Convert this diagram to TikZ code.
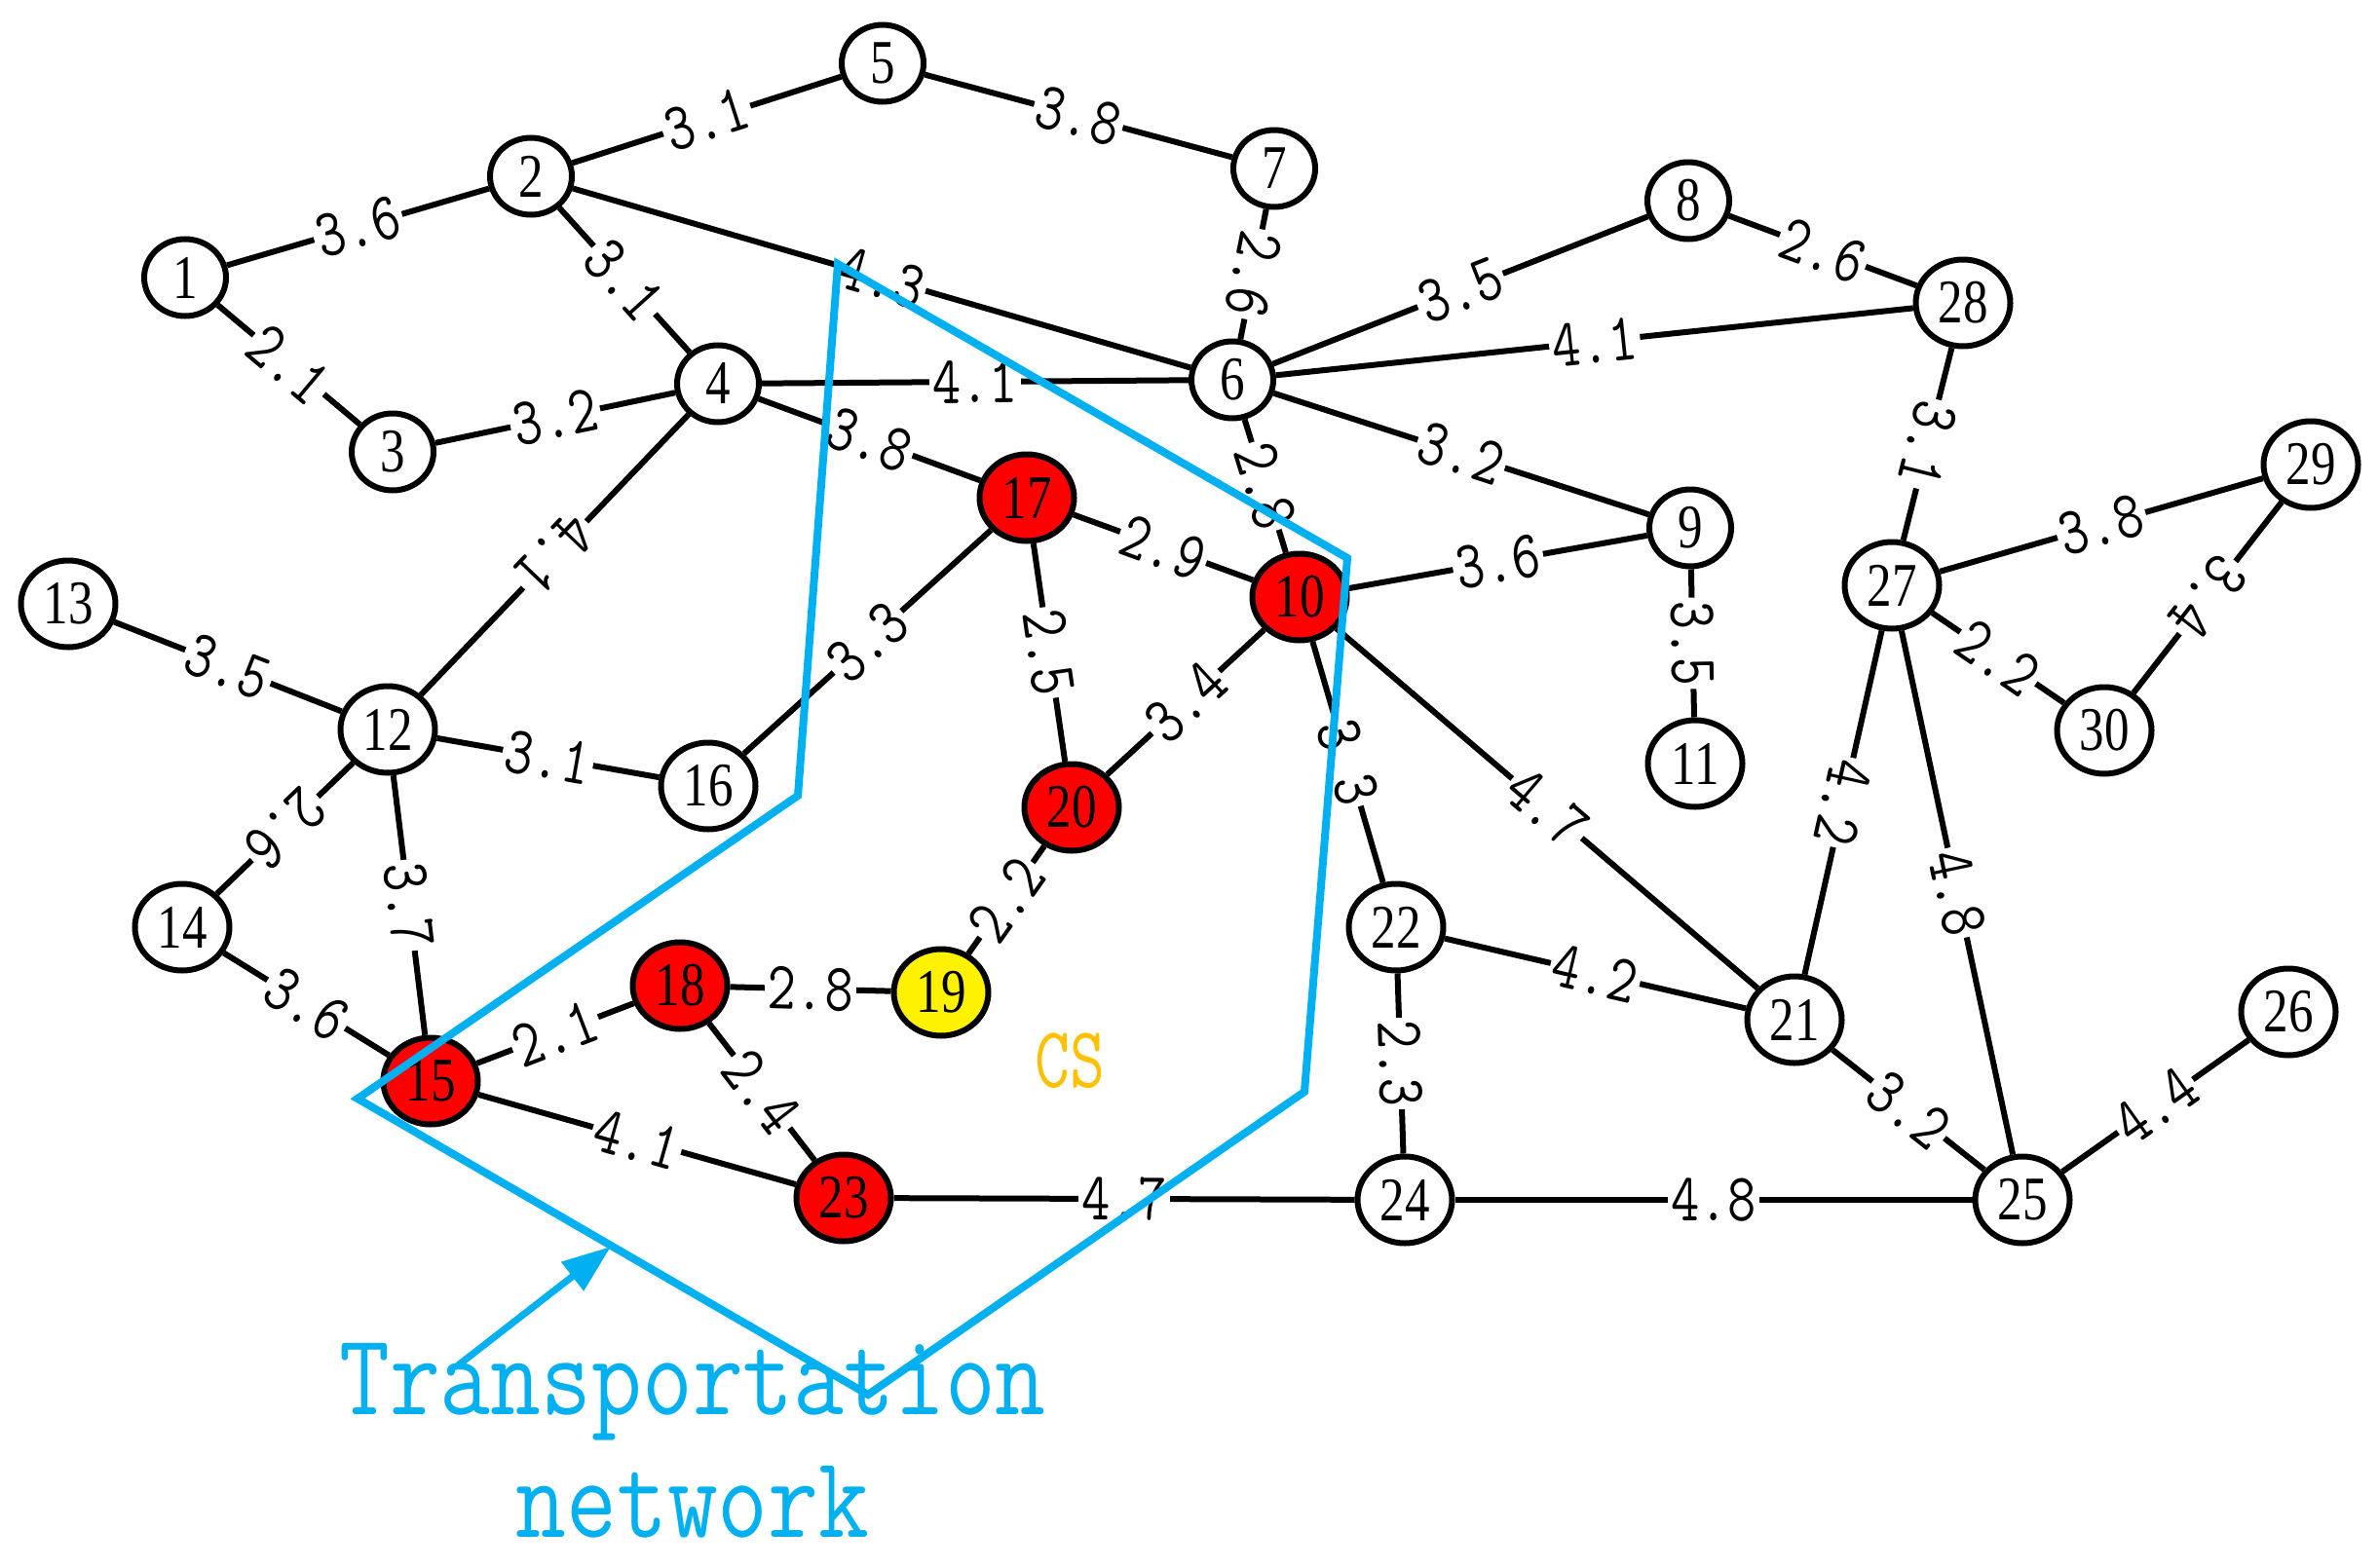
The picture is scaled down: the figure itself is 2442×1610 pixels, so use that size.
\documentclass[tikz,border=0pt]{standalone}
\usepackage{fontspec}
\usepackage{graphicx}
\usetikzlibrary{shapes.geometric,arrows.meta}
\newfontfamily\numfont{Liberation Serif}
\definecolor{tblue}{HTML}{00B0F0}
\definecolor{csorange}{HTML}{FFC000}
\newcommand\nnum[1]{\scalebox{0.8}[1]{#1}}
\newcommand\elab[1]{\scalebox{1}[1.23]{\addfontfeatures{FakeBold=3}#1}}
\begin{document}
\begin{tikzpicture}[x=1bp,y=-1bp,
  vtx/.style={ellipse, draw, line width=6bp, fill=white, inner sep=0pt,
    minimum width=84bp, minimum height=79bp, font=\numfont\fontsize{64}{64}\selectfont},
  vtxw/.style={vtx, minimum width=97bp, minimum height=89bp},
  hotnode/.style={fill=red},
  csnode/.style={fill=yellow},
  edge/.style={line width=6bp},
  lab/.style={fill=white, inner sep=3bp, sloped, allow upside down, midway,
    font=\ttfamily\fontsize{57}{57}\selectfont},
  poly/.style={draw=tblue, line width=8bp, line join=miter},
  bigtext/.style={anchor=base, text=tblue, font=\ttfamily\fontsize{101}{101}\selectfont\addfontfeatures{FakeBold=2.5}}
]
\fill[white] (0,0) rectangle (2442,1610);
\useasboundingbox (0,0) rectangle (2442,1610);

% vertices
\node[vtx]  (n1)  at (190,285)  {\nnum{1}};
\node[vtx]  (n2)  at (545,181)  {\nnum{2}};
\node[vtx]  (n3)  at (403,464)  {\nnum{3}};
\node[vtx]  (n4)  at (737,394)  {\nnum{4}};
\node[vtx]  (n5)  at (906,65)   {\nnum{5}};
\node[vtx]  (n6)  at (1265,390) {\nnum{6}};
\node[vtx]  (n7)  at (1308,173) {\nnum{7}};
\node[vtx]  (n8)  at (1733,206) {\nnum{8}};
\node[vtx]  (n9)  at (1735,542) {\nnum{9}};
\node[vtxw,hotnode] (n10) at (1334,613) {\nnum{10}};
\node[vtxw] (n11) at (1740,784) {\nnum{11}};
\node[vtxw] (n12) at (398,749)  {\nnum{12}};
\node[vtxw] (n13) at (70,620)   {\nnum{13}};
\node[vtxw] (n14) at (187,952)  {\nnum{14}};
\node[vtxw,hotnode] (n15) at (442,1110) {\nnum{15}};
\node[vtxw] (n16) at (727,807)  {\nnum{16}};
\node[vtxw,hotnode] (n17) at (1054,511) {\nnum{17}};
\node[vtxw,hotnode] (n18) at (698,1012) {\nnum{18}};
\node[vtxw,csnode]  (n19) at (966,1019) {\nnum{19}};
\node[vtxw,hotnode] (n20) at (1100,829) {\nnum{20}};
\node[vtxw] (n21) at (1842,1047) {\nnum{21}};
\node[vtxw] (n22) at (1433,952)  {\nnum{22}};
\node[vtxw,hotnode] (n23) at (866,1230) {\nnum{23}};
\node[vtxw] (n24) at (1442,1232) {\nnum{24}};
\node[vtxw] (n25) at (2076,1232) {\nnum{25}};
\node[vtxw] (n26) at (2349,1039) {\nnum{26}};
\node[vtxw] (n27) at (1942,601)  {\nnum{27}};
\node[vtxw] (n28) at (2015,311)  {\nnum{28}};
\node[vtxw] (n29) at (2372,477)  {\nnum{29}};
\node[vtxw] (n30) at (2160,750)  {\nnum{30}};

% edges
\draw[edge] (n1) -- node[lab]{\elab{3.6}} (n2);
\draw[edge] (n1) -- node[lab]{\elab{2.1}} (n3);
\draw[edge] (n2) -- node[lab]{\elab{3.1}} (n5);
\draw[edge] (n5) -- node[lab]{\elab{3.8}} (n7);
\draw[edge] (n2) -- node[lab]{\elab{3.1}} (n4);
\draw[edge] (n2) -- node[lab]{\elab{4.3}} (n6);
\draw[edge] (n3) -- node[lab]{\elab{3.2}} (n4);
\draw[edge] (n4) -- node[lab]{\elab{4.1}} (n6);
\draw[edge] (n4) -- node[lab]{\elab{3.8}} (n17);
\draw[edge] (n4) -- node[lab]{\elab{4.1}} (n12);
\draw[edge] (n7) -- node[lab]{\elab{2.6}} (n6);
\draw[edge] (n6) -- node[lab]{\elab{2.8}} (n10);
\draw[edge] (n6) -- node[lab]{\elab{3.5}} (n8);
\draw[edge] (n6) -- node[lab]{\elab{4.1}} (n28);
\draw[edge] (n6) -- node[lab]{\elab{3.2}} (n9);
\draw[edge] (n8) -- node[lab]{\elab{2.6}} (n28);
\draw[edge] (n28) -- node[lab]{\elab{3.1}} (n27);
\draw[edge] (n27) -- node[lab]{\elab{3.8}} (n29);
\draw[edge] (n29) -- node[lab]{\elab{3.4}} (n30);
\draw[edge] (n27) -- node[lab]{\elab{2.2}} (n30);
\draw[edge] (n27) -- node[lab]{\elab{4.2}} (n21);
\draw[edge] (n27) -- node[lab]{\elab{4.8}} (n25);
\draw[edge] (n10) -- node[lab]{\elab{3.6}} (n9);
\draw[edge] (n9) -- node[lab]{\elab{3.5}} (n11);
\draw[edge] (n17) -- node[lab]{\elab{2.9}} (n10);
\draw[edge] (n16) -- node[lab]{\elab{3.3}} (n17);
\draw[edge] (n17) -- node[lab]{\elab{2.5}} (n20);
\draw[edge] (n20) -- node[lab]{\elab{3.4}} (n10);
\draw[edge] (n19) -- node[lab]{\elab{2.2}} (n20);
\draw[edge] (n10) -- node[lab]{\elab{3.3}} (n22);
\draw[edge] (n10) -- node[lab]{\elab{4.7}} (n21);
\draw[edge] (n22) -- node[lab]{\elab{4.2}} (n21);
\draw[edge] (n22) -- node[lab]{\elab{2.3}} (n24);
\draw[edge] (n21) -- node[lab]{\elab{3.2}} (n25);
\draw[edge] (n24) -- node[lab]{\elab{4.8}} (n25);
\draw[edge] (n25) -- node[lab]{\elab{4.4}} (n26);
\draw[edge] (n23) -- node[lab]{\elab{4.7}} (n24);
\draw[edge] (n15) -- node[lab]{\elab{4.1}} (n23);
\draw[edge] (n15) -- node[lab]{\elab{2.1}} (n18);
\draw[edge] (n18) -- node[lab]{\elab{2.8}} (n19);
\draw[edge] (n18) -- node[lab]{\elab{2.4}} (n23);
\draw[edge] (n14) -- node[lab]{\elab{3.6}} (n15);
\draw[edge] (n12) -- node[lab]{\elab{3.1}} (n16);
\draw[edge] (n13) -- node[lab]{\elab{3.5}} (n12);
\draw[edge] (n12) -- node[lab]{\elab{2.6}} (n14);
\draw[edge] (n12) -- node[lab]{\elab{3.7}} (n15);

% CS label
\node[text=csorange, font=\ttfamily\fontsize{70}{70}\selectfont\addfontfeatures{FakeBold=2.5}] (cs) at (1098,1089) {\scalebox{1}[1.28]{CS}};

% transportation network region
\coordinate (p1) at (860,271);
\coordinate (p2) at (1383,573);
\coordinate (p3) at (1339,1121);
\coordinate (p4) at (891,1432);
\coordinate (p5) at (367,1128);
\coordinate (p6) at (819,817);
\draw[poly] (p1) -- (p2) -- (p3) -- (p4) -- (p5) -- (p6) -- cycle;

\coordinate (arrS) at (470,1402);
\coordinate (arrE) at (627,1280);
\draw[tblue, line width=7bp, -{Triangle[length=50bp,width=36bp]}] (arrS) -- (arrE);

\node[bigtext] (tn1) at (711,1452) {\scalebox{1}[1.19]{Transportation}};
\node[bigtext] (tn2) at (711,1578) {\scalebox{1}[1.19]{network}};
\end{tikzpicture}
\end{document}
